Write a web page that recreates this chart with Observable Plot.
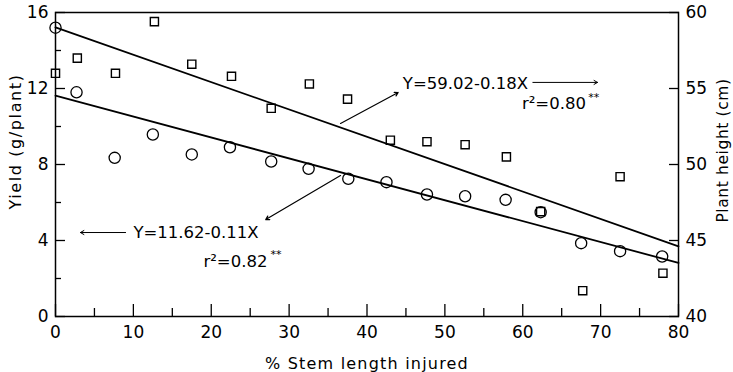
<!DOCTYPE html>
<html><head><meta charset="utf-8">
<script src="https://cdn.jsdelivr.net/npm/d3@7"></script>
<script src="https://cdn.jsdelivr.net/npm/@observablehq/plot@0.6"></script>
<style>body{margin:0;background:#fff;} svg{display:block;}</style>
</head><body><div id="chart"></div>
<script>
// Yield (circles, left axis, g/plant)
const yieldX = [0, 2.7, 7.6, 12.5, 17.5, 22.4, 27.7, 32.5, 37.6, 42.5, 47.7, 52.6, 57.8, 62.3, 67.5, 72.5, 77.9];
const yieldY = [15.2, 11.8, 8.35, 9.58, 8.53, 8.91, 8.16, 7.77, 7.25, 7.07, 6.42, 6.33, 6.14, 5.49, 3.86, 3.44, 3.16];
// Plant height (squares, right axis, cm)
const heightX = [0, 2.8, 7.7, 12.7, 17.5, 22.6, 27.7, 32.6, 37.5, 43.0, 47.7, 52.6, 57.9, 62.3, 67.7, 72.5, 78.0];
const heightY = [56.0, 57.0, 56.0, 59.4, 56.6, 55.8, 53.7, 55.3, 54.3, 51.6, 51.5, 51.3, 50.5, 46.9, 41.7, 49.2, 42.85];
// Regression line endpoints
const lineX = [0, 80];
const yieldFit = [11.62, 2.82];
const heightFit = [59.02, 44.62];
// Ticks
const xMajor = [0, 10, 20, 30, 40, 50, 60, 70, 80];
const xMinor = [5, 15, 25, 35, 45, 55, 65, 75];
const yMajor = [0, 4, 8, 12, 16];
const yMinor = [2, 6, 10, 14];
const hMajor = [40, 45, 50, 55, 60];

const H0 = 40, HK = 16 / 20; // height -> yield-scale mapping
const toY = h => (h - H0) * HK;

const yieldData = yieldX.map((x, i) => ({x, y: yieldY[i]}));
const heightData = heightX.map((x, i) => ({x, h: heightY[i]}));
const yieldLine = lineX.map((x, i) => ({x, y: yieldFit[i]}));
const heightLine = lineX.map((x, i) => ({x, h: heightFit[i]}));

const font = "DejaVu Sans";
const chart = Plot.plot({
  width: 733, height: 372,
  marginLeft: 55, marginRight: 55, marginTop: 12, marginBottom: 56,
  x: {domain: [0, 80]},
  y: {domain: [0, 16]},
  style: {fontFamily: font, fontSize: "16px", color: "#000", background: "#fff"},
  marks: [
    Plot.frame({stroke: "#000", strokeWidth: 1.5}),
    // inward ticks
    Plot.axisX({ticks: xMajor, tickSize: -12, tickFormat: () => "", label: null, strokeWidth: 1.3}),
    Plot.axisX({ticks: xMinor, tickSize: -8, tickFormat: () => "", label: null, strokeWidth: 1.3}),
    Plot.axisY({ticks: yMajor, tickSize: -10, tickFormat: () => "", label: null, strokeWidth: 1.3}),
    Plot.axisY({ticks: yMinor, tickSize: -6, tickFormat: () => "", label: null, strokeWidth: 1.3}),
    Plot.axisY({anchor: "right", ticks: hMajor.map(toY), tickSize: -10, tickFormat: () => "", label: null, strokeWidth: 1.3}),
    // tick labels
    Plot.axisX({ticks: xMajor, tickSize: 0, tickPadding: 9, label: null, fontSize: 17}),
    Plot.axisY({ticks: yMajor, tickSize: 0, tickPadding: 7, label: null, fontSize: 17}),
    Plot.axisY({anchor: "right", ticks: hMajor.map(toY), tickSize: 0, tickPadding: 7, label: null, fontSize: 17,
      tickFormat: d => String(Math.round(d / HK + H0))}),
    // axis titles
    Plot.text(["% Stem length injured"], {frameAnchor: "bottom", dy: 47, text: d => d, fontSize: 16, textAnchor: "middle", lineAnchor: "middle"}),
    Plot.text(["Yield (g/plant)"], {frameAnchor: "left", rotate: -90, dx: -40, dy: -23, text: d => d, fontSize: 16, textAnchor: "middle", lineAnchor: "middle"}),
    Plot.text(["Plant height (cm)"], {frameAnchor: "right", rotate: -90, dx: 45, dy: -14, text: d => d, fontSize: 15.5, textAnchor: "middle", lineAnchor: "middle"}),
    // regression lines
    Plot.line(heightLine, {x: "x", y: d => toY(d.h), stroke: "#000", strokeWidth: 1.8}),
    Plot.line(yieldLine, {x: "x", y: "y", stroke: "#000", strokeWidth: 1.8}),
    // points
    Plot.dot(heightData, {x: "x", y: d => toY(d.h), symbol: "square", r: 4.6, stroke: "#000", strokeWidth: 1.4, fill: "none"}),
    Plot.dot(yieldData, {x: "x", y: "y", symbol: "circle", r: 5.6, stroke: "#000", strokeWidth: 1.3, fill: "none"}),
    // annotations
    Plot.text(["Y=59.02-0.18X"], {x: 44.6, y: 12.26, text: d => d, textAnchor: "start", fontSize: 16.5}),
    Plot.text(["r²=0.80"], {x: 59.9, y: 11.2, text: d => d, textAnchor: "start", fontSize: 16.5}),
    Plot.text(["**"], {x: 68.4, y: 11.55, text: d => d, textAnchor: "start", fontSize: 11}),
    Plot.text(["Y=11.62-0.11X"], {x: 10.0, y: 4.42, text: d => d, textAnchor: "start", fontSize: 16.5}),
    Plot.text(["r²=0.82"], {x: 19.0, y: 2.9, text: d => d, textAnchor: "start", fontSize: 16.5}),
    Plot.text(["**"], {x: 27.6, y: 3.25, text: d => d, textAnchor: "start", fontSize: 11}),
    Plot.arrow([{x1: 61.3, x2: 69.6, y: 12.32}], {x1: "x1", x2: "x2", y1: "y", y2: "y", stroke: "#000", strokeWidth: 1, headLength: 6}),
    Plot.arrow([{x1: 9.0, x2: 3.2, y: 4.42}], {x1: "x1", x2: "x2", y1: "y", y2: "y", stroke: "#000", strokeWidth: 1, headLength: 6}),
    Plot.arrow([{x1: 36.6, y1: 10.16, x2: 44.0, y2: 11.79}], {x1: "x1", y1: "y1", x2: "x2", y2: "y2", stroke: "#000", strokeWidth: 1.2, headLength: 5}),
    Plot.arrow([{x1: 36.6, y1: 7.42, x2: 27.0, y2: 5.1}], {x1: "x1", y1: "y1", x2: "x2", y2: "y2", stroke: "#000", strokeWidth: 1.2, headLength: 5})
  ]
});
// letter spacing for the axis titles (styling only)
const spacing = {"% Stem length injured": "1.2px", "Yield (g/plant)": "1.6px", "Plant height (cm)": "0.6px"};
d3.select(chart).selectAll("text").each(function() {
  const s = spacing[this.textContent];
  if (s) this.setAttribute("letter-spacing", s);
});
document.getElementById("chart").appendChild(chart);
</script>
</body></html>
